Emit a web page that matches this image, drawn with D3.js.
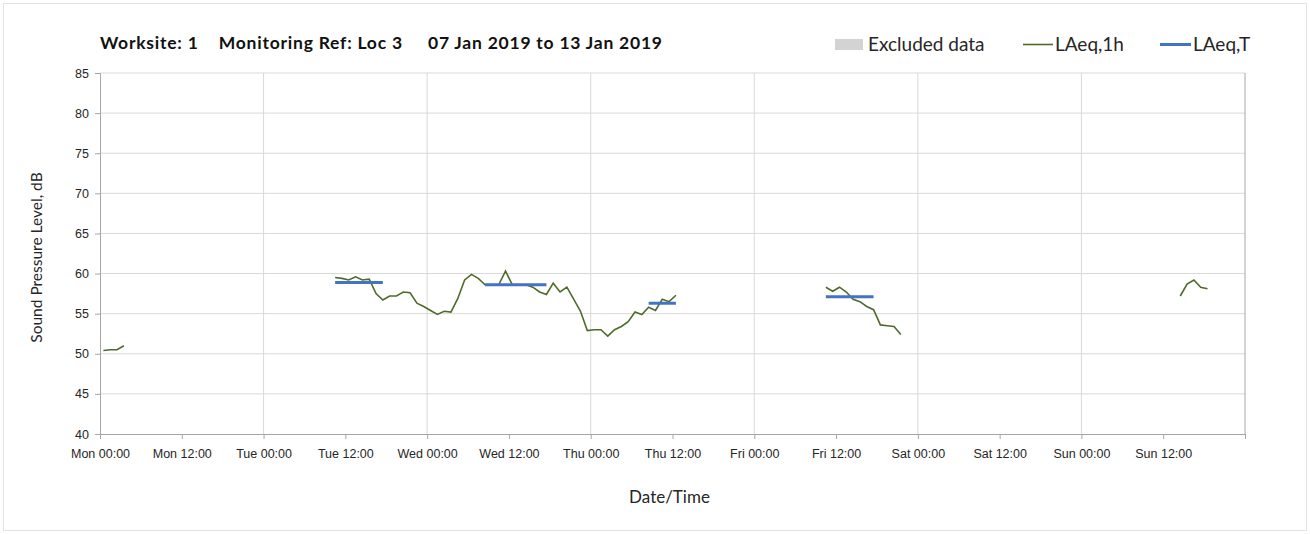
<!DOCTYPE html>
<html>
<head>
<meta charset="utf-8">
<script src="https://cdn.jsdelivr.net/npm/d3@7/dist/d3.min.js"></script>
<style>
  body { margin: 0; background: #fff; }
  svg { display: block; font-family: Lato, "Open Sans", sans-serif; }
  .axis path, .axis line { stroke: #a6a6a6; }
  .axis text { fill: #262626; font-size: 12.5px; }
</style>
</head>
<body>
<svg id="chart" width="1310" height="534"></svg>
<script>
// hourly LAeq,1h readings, split where data is missing
const monStart = new Date(2019, 0, 7, 0, 30)
const monValues = [50.4, 50.5, 50.5, 51.0]

const tueStart = new Date(2019, 0, 8, 10, 30)
const tueThuValues = [
  59.5, 59.4, 59.2, 59.6, 59.2, 59.3, 57.5, 56.7, 57.2, 57.2, 57.7, 57.6,
  56.3, 55.9, 55.4, 54.9, 55.3, 55.2, 56.9, 59.2, 59.9, 59.4, 58.6, 58.6,
  58.6, 60.3, 58.6, 58.6, 58.6, 58.3, 57.7, 57.4, 58.8, 57.7, 58.3, 56.8,
  55.3, 52.9, 53.0, 53.0, 52.2, 53.0, 53.4, 54.0, 55.2, 54.9, 55.8, 55.4,
  56.8, 56.5, 57.3
]

const friStart = new Date(2019, 0, 11, 10, 30)
const friValues = [58.3, 57.8, 58.3, 57.7, 56.8, 56.5, 55.9, 55.5, 53.6, 53.5, 53.4, 52.4]

const sunStart = new Date(2019, 0, 13, 14, 30)
const sunValues = [57.2, 58.7, 59.2, 58.3, 58.1]

// LAeq,T periods: start, end, level
const periodStarts = [new Date(2019, 0, 8, 10, 30), new Date(2019, 0, 9, 8, 30), new Date(2019, 0, 10, 8, 30), new Date(2019, 0, 11, 10, 30)]
const periodEnds = [new Date(2019, 0, 8, 17, 30), new Date(2019, 0, 9, 17, 30), new Date(2019, 0, 10, 12, 30), new Date(2019, 0, 11, 17, 30)]
const periodLevels = [58.9, 58.6, 56.3, 57.1]

const yTicks = [40, 45, 50, 55, 60, 65, 70, 75, 80, 85]
const legendLabels = ['Excluded data', 'LAeq,1h', 'LAeq,T']

const hourly = (start, values) => values.map((v, i) => ({
  date: d3.timeHour.offset(start, i),
  value: v
}))

const segments = [
  hourly(monStart, monValues),
  hourly(tueStart, tueThuValues),
  hourly(friStart, friValues),
  hourly(sunStart, sunValues)
]

const svg = d3.select('#chart')
const margin = {top: 73, right: 65, bottom: 100, left: 100}
const width = 1310
const height = 534

const x = d3.scaleTime()
  .domain([new Date(2019, 0, 7), new Date(2019, 0, 14)])
  .range([margin.left, width - margin.right])

const y = d3.scaleLinear()
  .domain([40, 85])
  .range([height - margin.bottom, margin.top])

// outer frame
svg.append('rect')
  .attr('x', 3.5).attr('y', 3.5)
  .attr('width', width - 7).attr('height', height - 7)
  .attr('fill', 'none')
  .attr('stroke', '#e3e3e3')

// grid lines
svg.append('g')
  .selectAll('line')
  .data(yTicks.slice(1))
  .enter()
  .append('line')
  .attr('x1', x.range()[0]).attr('x2', x.range()[1])
  .attr('y1', d => y(d)).attr('y2', d => y(d))
  .attr('stroke', '#d9d9d9')

svg.append('g')
  .selectAll('line')
  .data(x.ticks(d3.timeDay.every(1)).slice(1, -1))
  .enter()
  .append('line')
  .attr('x1', d => x(d)).attr('x2', d => x(d))
  .attr('y1', y(40)).attr('y2', y(85))
  .attr('stroke', '#d9d9d9')

// right edge of plot area
svg.append('line')
  .attr('x1', x.range()[1]).attr('x2', x.range()[1])
  .attr('y1', y(40)).attr('y2', y(85))
  .attr('stroke', '#a6a6a6')

const xTicks = d3.timeHour.every(12).range(new Date(2019, 0, 7), new Date(2019, 0, 14, 1))

const xAxis = svg.append('g')
  .attr('class', 'x axis')
  .attr('transform', `translate(0, ${y(40)})`)
  .call(d3.axisBottom(x)
    .tickValues(xTicks)
    .tickSize(5)
    .tickFormat((d, i) => i === xTicks.length - 1 ? '' : d3.timeFormat('%a %H:%M')(d)))
xAxis.selectAll('text').attr('dy', '1.3em')

svg.append('g')
  .attr('class', 'y axis')
  .attr('transform', `translate(${margin.left}, 0)`)
  .call(d3.axisLeft(y).tickValues(yTicks).tickSize(5).tickPadding(6))

svg.selectAll('.domain').attr('stroke', '#a6a6a6')

// LAeq,1h line
const line = d3.line()
  .x(d => x(d.date))
  .y(d => y(d.value))

svg.append('g')
  .selectAll('path')
  .data(segments)
  .enter()
  .append('path')
  .attr('d', line)
  .attr('fill', 'none')
  .attr('stroke', '#4f6b2a')
  .attr('stroke-width', 1.6)

// LAeq,T lines
svg.append('g')
  .selectAll('line')
  .data(periodLevels)
  .enter()
  .append('line')
  .attr('x1', (d, i) => x(periodStarts[i]))
  .attr('x2', (d, i) => x(periodEnds[i]))
  .attr('y1', d => y(d)).attr('y2', d => y(d))
  .attr('stroke', '#4472c4')
  .attr('stroke-width', 3)

// title
svg.append('text')
  .attr('x', 100).attr('y', 49)
  .attr('font-size', 17.5)
  .attr('font-weight', 'bold')
  .attr('fill', '#111')
  .attr('xml:space', 'preserve')
  .attr('textLength', 562)
  .attr('lengthAdjust', 'spacing')
  .text('Worksite: 1    Monitoring Ref: Loc 3     07 Jan 2019 to 13 Jan 2019')

// axis titles
svg.append('text')
  .attr('x', (x.range()[0] + x.range()[1]) / 2 - 3)
  .attr('y', 503)
  .attr('text-anchor', 'middle')
  .attr('font-size', 17)
  .attr('fill', '#262626')
  .text('Date/Time')

svg.append('text')
  .attr('transform', `translate(42, ${(y(40) + y(85)) / 2 + 4}) rotate(-90)`)
  .attr('text-anchor', 'middle')
  .attr('font-size', 15.5)
  .attr('fill', '#262626')
  .text('Sound Pressure Level, dB')

// legend
const legend = svg.append('g').attr('font-size', 19).attr('fill', '#262626')
legend.append('rect')
  .attr('x', 835).attr('y', 39).attr('width', 28).attr('height', 11)
  .attr('fill', '#d3d3d3')
legend.append('text').attr('x', 868).attr('y', 51).text(legendLabels[0])
legend.append('line')
  .attr('x1', 1023).attr('x2', 1053).attr('y1', 44.5).attr('y2', 44.5)
  .attr('stroke', '#4f6b2a').attr('stroke-width', 1.6)
legend.append('text').attr('x', 1055).attr('y', 51).text(legendLabels[1])
legend.append('line')
  .attr('x1', 1160).attr('x2', 1191).attr('y1', 44.5).attr('y2', 44.5)
  .attr('stroke', '#4472c4').attr('stroke-width', 3)
legend.append('text').attr('x', 1193).attr('y', 51).text(legendLabels[2])
</script>
</body>
</html>
